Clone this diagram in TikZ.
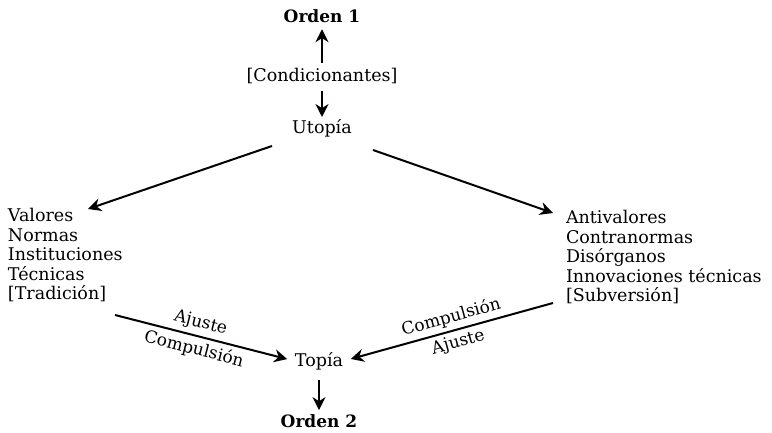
\documentclass[tikz,border=0pt]{standalone}
\usepackage{fontspec}
\setmainfont{DejaVu Serif}
\usetikzlibrary{arrows.meta}

\begin{document}
\begin{tikzpicture}[>={Stealth[length=13pt,width=13pt]}, x=1pt, y=-1pt, line width=2pt,
    txt/.style={anchor=base, inner sep=0pt, font=\fontsize{17.5}{21}\selectfont},
    ttl/.style={txt, font=\fontsize{17}{21}\selectfont\bfseries},
    lbl/.style={inner sep=4pt, sloped, font=\fontsize{17}{21}\selectfont}]
        \useasboundingbox (0,0) rectangle (772,433);
        \pgfmathsetmacro{\linegap}{19.4}

        % eje central
        \node[ttl] (orden1) at (322,23) {Orden 1};
        \node[txt] (cond) at (322,82) {[Condicionantes]};
        \node[txt] (utopia) at (322,134) {Utopía};
        \node[txt] (topia) at (319,366) {Topía};
        \node[ttl] (orden2) at (319,427) {Orden 2};

        % columnas
        \foreach \t [count=\i] in {Valores, Normas, Instituciones, Técnicas, {[Tradición]}} {
            \node[txt, anchor=base west] (l\i) at (7, {222+\linegap*(\i-1)}) {\t};
        }
        \foreach \t [count=\i] in {Antivalores, Contranormas, Disórganos, Innovaciones técnicas, {[Subversión]}} {
            \node[txt, anchor=base west] (r\i) at (565, {224+\linegap*(\i-1)}) {\t};
        }

        \coordinate (ul) at (272,146);
        \coordinate (ur) at (373,150);
        \coordinate (vl) at (88,209);
        \coordinate (vr) at (553,213);
        \coordinate (tl) at (115,315);
        \coordinate (tr) at (553,303);

        \draw[->, shorten <=5pt, shorten >=5pt] (cond) -- (orden1);
        \draw[->, shorten <=6pt, shorten >=2pt] (cond) -- (utopia);
        \draw[->] (ul) -- (vl);
        \draw[->] (ur) -- (vr);
        \draw[->, shorten >=7pt] (tl) -- (topia.west)
            node[lbl, pos=0.46, above] {Ajuste}
            node[lbl, pos=0.46, below] {Compulsión};
        \draw[<-, shorten <=7pt] (topia.east) -- (tr)
            node[lbl, pos=0.53, above] {Compulsión}
            node[lbl, pos=0.53, below] {Ajuste};
        \draw[->, shorten <=9pt, shorten >=3pt] (topia) -- (orden2);
    \end{tikzpicture}
\end{document}
